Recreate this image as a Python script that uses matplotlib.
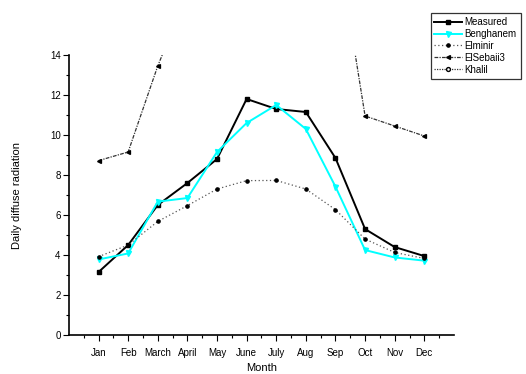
import matplotlib
matplotlib.use('Agg')
import matplotlib.pyplot as plt
import numpy as np

plt.rcParams['font.family'] = ['Liberation Sans', 'DejaVu Sans']

months = ['Jan', 'Feb', 'March', 'April', 'May', 'June', 'July', 'Aug', 'Sep', 'Oct', 'Nov', 'Dec']
measured = [3.15, 4.5, 6.5, 7.6, 8.8, 11.8, 11.3, 11.15, 8.85, 5.3, 4.4, 3.95]
benghanem = [3.78, 4.08, 6.67, 6.85, 9.15, 10.6, 11.5, 10.3, 7.42, 4.25, 3.88, 3.72]
elminir = [3.92, 4.5, 5.68, 6.47, 7.3, 7.72, 7.73, 7.3, 6.27, 4.8, 4.13, 3.83]
elsebaii3 = [8.72, 9.15, 13.45, 17.1, 19.0, 21.0, 22.0, 21.5, 20.2, 10.95, 10.45, 9.95]
khalil = []  # lies above the plotted range, only shown in legend

x = np.arange(1, len(months) + 1)

fig = plt.figure(figsize=(5.26, 3.74), dpi=100)
ax = fig.add_axes([0.131, 0.104, 0.732, 0.749])

ax.plot(x, measured, color='black', lw=1.4, marker='s', ms=3.2, label='Measured')
ax.plot(x, benghanem, color='cyan', lw=1.4, marker='v', ms=3.6, label='Benghanem')
ax.plot(x, elminir, color='#555555', lw=0.9, ls=(0, (1, 2)), marker='o', ms=2.3,
        mfc='black', mec='black', label='Elminir')
ax.plot(x, elsebaii3, color='#333333', lw=0.9, ls=(0, (3, 1, 1, 1)), marker='<', ms=2.8,
        mfc='black', mec='black', label='ElSebaii3')
ax.plot(x[:len(khalil)], khalil, color='#333333', lw=0.9, ls=(0, (1, 1)), marker='o', ms=2.8,
        mfc='white', mec='black', label='Khalil')

ax.set_xlim(0, 13)
ax.set_ylim(0, 14)
ax.set_xticks(x)
ax.set_xticklabels(months)
ax.set_xticks(np.arange(0.5, 13.5, 1.0), minor=True)
ax.set_yticks(np.arange(0, 15, 2))
ax.set_yticks(np.arange(1, 14, 2), minor=True)
ax.tick_params(axis='both', which='major', direction='out', length=4, width=0.8,
               labelsize=7, pad=2)
ax.tick_params(axis='both', which='minor', direction='out', length=2, width=0.8)
ax.tick_params(axis='x', which='major', pad=5)
for s in ['top', 'right']:
    ax.spines[s].set_visible(False)
for s in ['left', 'bottom']:
    ax.spines[s].set_linewidth(1.2)

ax.set_xlabel('Month', fontsize=8, labelpad=4)
ax.set_ylabel('Daily diffuse radiation', fontsize=8, labelpad=20)

leg = fig.legend(loc='upper right', bbox_to_anchor=(0.999, 0.978), fontsize=7,
                 frameon=True, fancybox=False, edgecolor='black', handlelength=2.8,
                 handletextpad=0.3, borderpad=0.4, labelspacing=0.2)
leg.get_frame().set_linewidth(0.9)

fig.savefig('out.png', dpi=100)
